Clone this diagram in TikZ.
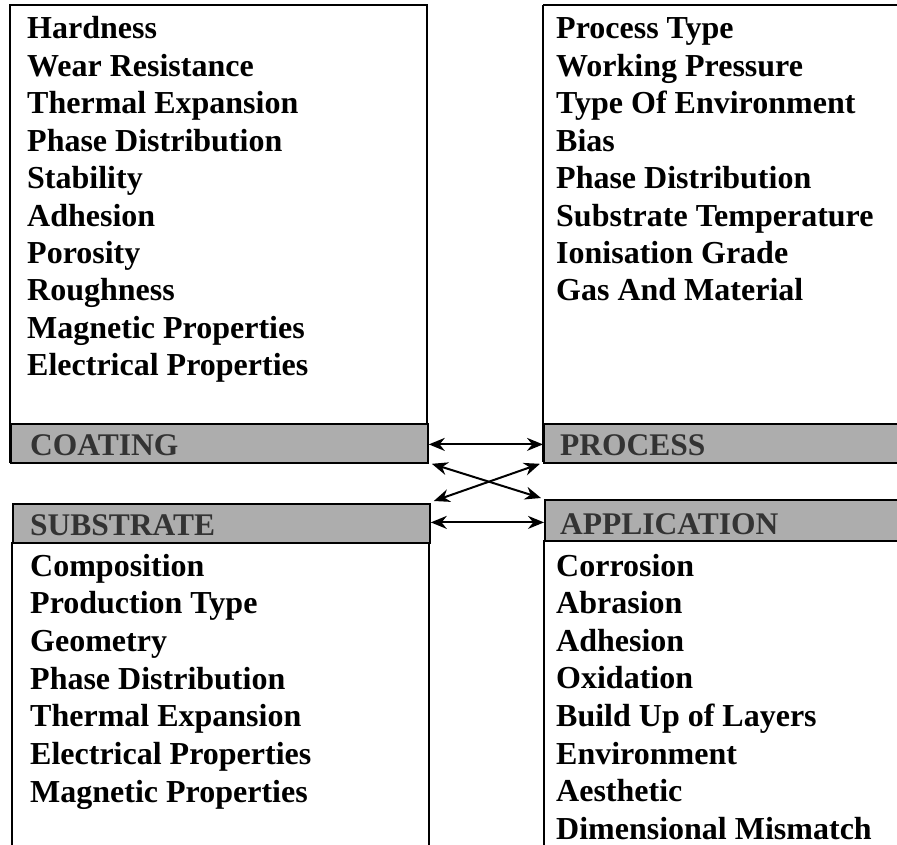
\documentclass[tikz,border=0pt]{standalone}
\usepackage{fontspec}
\setmainfont{Liberation Serif}
\usetikzlibrary{arrows.meta}
\definecolor{bandgray}{gray}{0.68}
\definecolor{bandtext}{gray}{0.2}
\tikzset{
  every picture/.style={x=1pt,y=-1pt},
  item/.style={anchor=base west, inner sep=0pt, text depth=0pt, font=\fontsize{32}{37}\selectfont\bfseries},
  bandlabel/.style={anchor=base west, inner sep=0pt, text=bandtext, font=\fontsize{31.5}{36}\selectfont\bfseries},
  band/.style={draw=black, line width=1.8pt, fill=bandgray, anchor=north west, inner sep=0pt},
  boxline/.style={draw=black, line width=1.8pt},
  link/.style={line width=2pt, {Stealth[length=16pt,width=13pt]}-{Stealth[length=16pt,width=13pt]}}
}
\begin{document}
\begin{tikzpicture}
\useasboundingbox (0,0) rectangle (897,845);
% box outlines
\draw[boxline] (10,5) rectangle (427,462);
\draw[boxline] (543,5) -- (905,5);
\draw[boxline] (543,5) -- (543,462);
\draw[boxline] (12,542) -- (12,860);
\draw[boxline] (429,542) -- (429,860);
\draw[boxline] (544,540) -- (544,860);
% bands
\node[band, minimum width=417pt, minimum height=39pt] (coat) at (10,423) {};
\node[band, minimum width=370pt, minimum height=39pt] (proc) at (543,423) {};
\node[band, minimum width=417pt, minimum height=39pt] (subs) at (12,503) {};
\node[band, minimum width=370pt, minimum height=41pt] (appl) at (544,499) {};
\node[bandlabel] (coatlbl) at (30,455) {COATING};
\node[bandlabel] (proclbl) at (560,455) {PROCESS};
\node[bandlabel] (subslbl) at (30,535) {SUBSTRATE};
\node[bandlabel] (appllbl) at (560,534) {APPLICATION};
% lists
\foreach \t [count=\i] in {Hardness, Wear Resistance, Thermal Expansion, Phase Distribution, Stability, Adhesion, Porosity, Roughness, Magnetic Properties, Electrical Properties}
  \node[item] (c\i) at (27,{39+37.4*(\i-1)}) {\t};
\foreach \t [count=\i] in {Process Type, Working Pressure, Type Of Environment, Bias, Phase Distribution, Substrate Temperature, Ionisation Grade, Gas And Material}
  \node[item] (p\i) at (556,{39+37.4*(\i-1)}) {\t};
\foreach \t [count=\i] in {Composition, Production Type, Geometry, Phase Distribution, Thermal Expansion, Electrical Properties, Magnetic Properties}
  \node[item] (s\i) at (30,{576+37.7*(\i-1)}) {\t};
\foreach \t [count=\i] in {Corrosion, Abrasion, Adhesion, Oxidation, Build Up of Layers, Environment, Aesthetic, Dimensional Mismatch}
  \node[item] (a\i) at (556,{576+37.6*(\i-1)}) {\t};
% connectors
\draw[link] ([yshift=-1pt]coat.east) -- ([yshift=-1pt]coat.east -| proc.west);
\draw[link] ([shift={(3pt,0pt)}]coat.south east) -- ([shift={(-3pt,1pt)}]appl.north west);
\draw[link] ([shift={(3pt,2pt)}]subs.north east) -- ([shift={(-3pt,0pt)}]proc.south west);
\draw[link] ([yshift=1pt]subs.east) -- ([yshift=1pt]subs.east -| appl.west);
\end{tikzpicture}
\end{document}
